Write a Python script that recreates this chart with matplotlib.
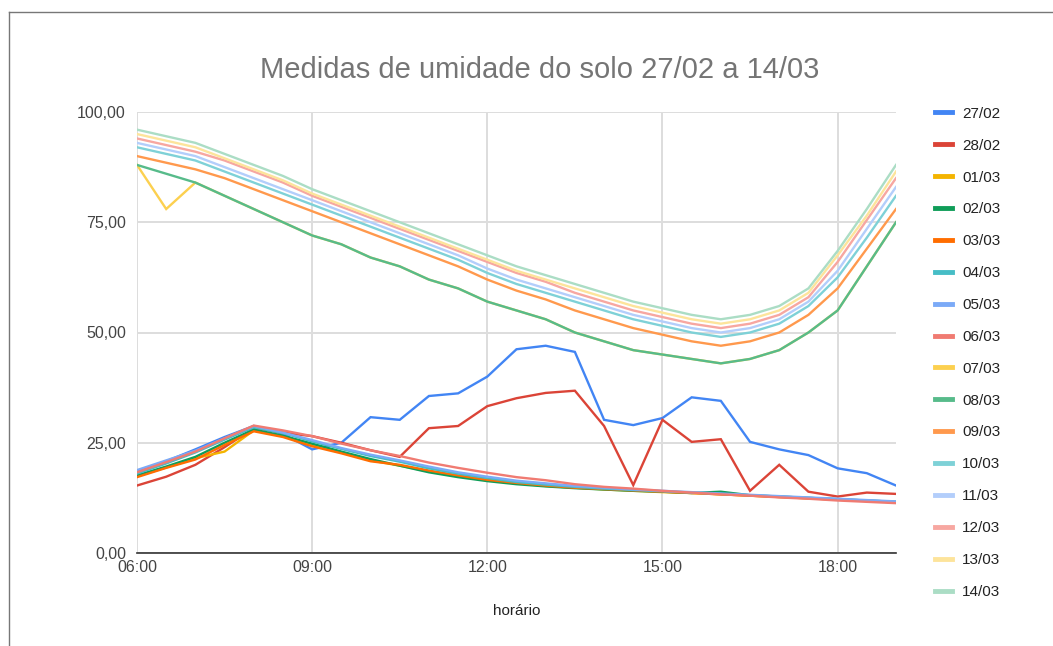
import matplotlib
matplotlib.use("Agg")
import matplotlib.pyplot as plt
from matplotlib.lines import Line2D

plt.rcParams['font.family'] = ['Liberation Sans', 'DejaVu Sans']

# horários das leituras (de meia em meia hora)
horarios = ["06:00", "06:30", "07:00", "07:30", "08:00", "08:30", "09:00", "09:30",
            "10:00", "10:30", "11:00", "11:30", "12:00", "12:30", "13:00", "13:30",
            "14:00", "14:30", "15:00", "15:30", "16:00", "16:30", "17:00", "17:30",
            "18:00", "18:30", "19:00"]

dias = ["27/02", "28/02", "01/03", "02/03", "03/03", "04/03", "05/03", "06/03",
        "07/03", "08/03", "09/03", "10/03", "11/03", "12/03", "13/03", "14/03"]

cores = ["#4285F4", "#DB4437", "#F4B400", "#0F9D58", "#FF6D00", "#46BDC6", "#7BAAF7", "#F07B72",
         "#FCD04F", "#57BB8A", "#FF994D", "#7ED1D7", "#B3CEFB", "#F7A7A1", "#FDE49B", "#ABDDC5"]

u_2702 = [18.5, 20.8, 23.5, 26.3, 28.8, 27.0, 23.5, 25.0, 30.8, 30.2, 35.6, 36.2, 40.0, 46.2,
          47.0, 45.6, 30.2, 29.0, 30.6, 35.3, 34.5, 25.2, 23.5, 22.2, 19.2, 18.1, 15.3]
u_2802 = [15.3, 17.3, 20.0, 24.0, 28.3, 27.3, 26.5, 25.0, 23.3, 21.8, 28.3, 28.8, 33.3, 35.1,
          36.3, 36.8, 28.8, 15.4, 30.2, 25.2, 25.8, 14.1, 20.0, 13.9, 12.8, 13.7, 13.4]
u_0103 = [17.4, 19.4, 21.5, 23.0, 27.8, 26.5, 24.5, 22.8, 21.0, 19.8, 18.5, 17.4, 16.5, 15.8,
          15.2, 14.8, 14.4, 14.1, 13.8, 13.6, 13.3, 13.0, 12.7, 12.4, 12.1, 11.8, 11.5]
u_0203 = [17.6, 19.6, 21.8, 25.0, 28.0, 26.6, 24.8, 23.0, 21.3, 19.8, 18.3, 17.2, 16.3, 15.6,
          15.1, 14.7, 14.4, 14.1, 13.9, 13.6, 13.9, 13.1, 12.8, 12.5, 12.2, 11.9, 11.6]
u_0303 = [17.2, 19.3, 21.2, 24.5, 27.6, 26.3, 24.2, 22.6, 20.8, 20.0, 18.7, 17.6, 16.6, 15.9,
          15.3, 14.8, 14.5, 14.2, 13.9, 13.6, 13.3, 13.0, 12.7, 12.4, 12.1, 11.8, 11.5]
u_0403 = [18.0, 20.3, 22.8, 25.7, 28.5, 27.2, 25.3, 23.6, 22.0, 20.7, 19.2, 18.0, 17.0, 16.1,
          15.5, 15.0, 14.6, 14.3, 14.0, 13.7, 13.4, 13.1, 12.8, 12.5, 12.2, 11.9, 11.6]
u_0503 = [18.8, 21.0, 23.2, 26.0, 28.8, 27.3, 25.6, 23.8, 22.3, 21.0, 19.6, 18.3, 17.3, 16.4,
          15.8, 15.2, 14.8, 14.4, 14.1, 13.8, 13.5, 13.2, 12.9, 12.6, 12.3, 12.0, 11.7]
u_0603 = [18.3, 20.6, 23.0, 26.0, 28.9, 27.8, 26.5, 24.8, 23.3, 22.0, 20.5, 19.3, 18.2, 17.2,
          16.5, 15.6, 15.0, 14.6, 14.1, 13.7, 13.3, 13.0, 12.6, 12.3, 11.9, 11.6, 11.3]
u_0703 = [88.0, 78.0, 84.0, 81.0, 78.0, 75.0, 72.0, 70.0, 67.0, 65.0, 62.0, 60.0, 57.0, 55.0,
          53.0, 50.0, 48.0, 46.0, 45.0, 44.0, 43.0, 44.0, 46.0, 50.0, 55.0, 65.0, 75.0]
u_0803 = [88.0, 86.0, 84.0, 81.0, 78.0, 75.0, 72.0, 70.0, 67.0, 65.0, 62.0, 60.0, 57.0, 55.0,
          53.0, 50.0, 48.0, 46.0, 45.0, 44.0, 43.0, 44.0, 46.0, 50.0, 55.0, 65.0, 75.0]
u_0903 = [90.0, 88.5, 87.0, 85.0, 82.5, 80.0, 77.5, 75.0, 72.5, 70.0, 67.5, 65.0, 62.0, 59.5,
          57.5, 55.0, 53.0, 51.0, 49.5, 48.0, 47.0, 48.0, 50.0, 54.0, 60.0, 69.0, 78.0]
u_1003 = [92.0, 90.5, 89.0, 86.5, 84.0, 81.5, 79.0, 76.5, 74.0, 71.5, 69.0, 66.5, 63.5, 61.0,
          59.0, 57.0, 55.0, 53.0, 51.5, 50.0, 49.0, 50.0, 52.0, 56.0, 62.5, 71.5, 81.0]
u_1103 = [93.0, 91.5, 90.0, 87.5, 85.0, 82.5, 80.0, 77.5, 75.0, 72.5, 70.0, 67.5, 64.5, 62.0,
          60.0, 58.0, 56.0, 54.0, 52.5, 51.0, 50.0, 51.0, 53.0, 57.0, 64.0, 73.5, 83.0]
u_1203 = [94.0, 92.5, 91.0, 89.0, 86.5, 84.0, 81.0, 78.5, 76.0, 73.5, 71.0, 68.5, 66.0, 63.5,
          61.5, 59.0, 57.0, 55.0, 53.5, 52.0, 51.0, 52.0, 54.0, 58.0, 66.0, 75.5, 85.0]
u_1303 = [95.0, 93.5, 92.0, 89.5, 87.0, 84.5, 81.5, 79.0, 76.5, 74.0, 71.5, 69.0, 66.5, 64.0,
          62.0, 60.0, 58.0, 56.0, 54.5, 53.0, 52.0, 53.0, 55.0, 59.0, 67.5, 76.5, 86.5]
u_1403 = [96.0, 94.5, 93.0, 90.5, 88.0, 85.5, 82.5, 80.0, 77.5, 75.0, 72.5, 70.0, 67.5, 65.0,
          63.0, 61.0, 59.0, 57.0, 55.5, 54.0, 53.0, 54.0, 56.0, 60.0, 68.5, 78.0, 88.0]

series = [u_2702, u_2802, u_0103, u_0203, u_0303, u_0403, u_0503, u_0603,
          u_0703, u_0803, u_0903, u_1003, u_1103, u_1203, u_1303, u_1403]


def em_horas(h):
    hh, mm = h.split(":")
    return int(hh) + int(mm) / 60


x = [em_horas(h) for h in horarios]

fig = plt.figure(figsize=(10.53, 6.46), dpi=100)
ax = fig.add_axes([137 / 1053, 1 - 553 / 646, (896 - 137) / 1053, (553 - 112) / 646])

for dia, cor, y in zip(dias, cores, series):
    ax.plot(x, y, color=cor, lw=1.7, label=dia, solid_joinstyle='miter')

ax.set_xlim(6, 19)
ax.set_ylim(0, 100)
ax.set_xticks([6, 9, 12, 15, 18])
ax.set_xticklabels(["06:00", "09:00", "12:00", "15:00", "18:00"])
ax.set_yticks([0, 25, 50, 75, 100])
ax.set_yticklabels(["0,00", "25,00", "50,00", "75,00", "100,00"])
ax.tick_params(length=0, labelsize=11.5, colors="#444444")
ax.tick_params(axis="x", pad=5)
ax.tick_params(axis="y", pad=8)
ax.grid(True, color="#dddddd", lw=1.4)
ax.set_axisbelow(True)
for s in ["top", "right", "left"]:
    ax.spines[s].set_visible(False)
ax.spines["bottom"].set_color("#333333")
ax.spines["bottom"].set_linewidth(1.2)
ax.set_xlabel("horário", fontsize=11, color="#222222", labelpad=21)

fig.text(540 / 1053, 1 - 70 / 646, "Medidas de umidade do solo 27/02 a 14/03",
         ha="center", va="center", fontsize=21, color="#757575")

handles = [Line2D([], [], color=c, lw=3.5) for c in cores]
fig.legend(handles, dias, loc="upper left", bbox_to_anchor=(921 / 1053, 1 - 93 / 646),
           frameon=False, fontsize=11, labelspacing=1.17, handlelength=1.1,
           handletextpad=0.7, labelcolor="#222222")

# moldura cinza
fig.add_artist(Line2D([9 / 1053, 9 / 1053], [0, 1 - 12 / 646], color="#777777", lw=1,
                      transform=fig.transFigure))
fig.add_artist(Line2D([9 / 1053, 1], [1 - 12 / 646, 1 - 12 / 646], color="#777777", lw=1,
                      transform=fig.transFigure))

fig.savefig("out.png", dpi=100)
